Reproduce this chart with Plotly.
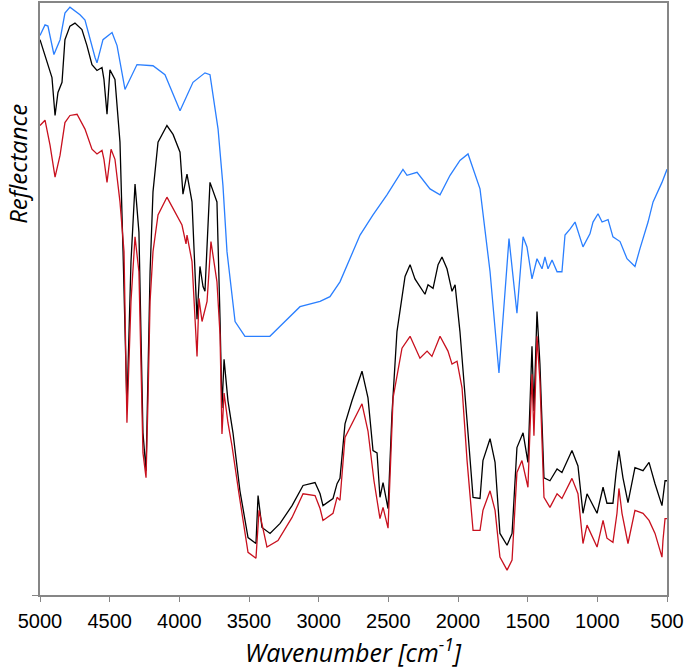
import plotly.graph_objects as go

# Wavenumbers (cm-1) and reflectance (arb. units, 0-100)
blue_wn = [5000, 4964, 4943, 4900, 4856, 4821, 4785, 4713, 4677, 4641, 4605, 4591, 4548, 4483,
           4447, 4390, 4304, 4189, 4103, 3995, 3902, 3816, 3780, 3722, 3687, 3658, 3600, 3529,
           3350, 3277, 3206, 3134, 2990, 2919, 2847, 2754, 2703, 2610, 2510, 2395, 2366, 2294,
           2201, 2129, 2057, 1986, 1928, 1842, 1770, 1706, 1648, 1634, 1577, 1533, 1505, 1469,
           1433, 1397, 1376, 1354, 1325, 1289, 1254, 1232, 1196, 1160, 1103, 1053, 1031, 995,
           966, 923, 888, 837, 787, 730, 694, 636, 600, 536, 500]
blue_r = [94.5, 96.3, 96.1, 91.3, 93.8, 98.3, 99.3, 98.0, 97.1, 93.8, 90.8, 89.9, 93.8, 95.0,
          92.8, 85.4, 89.6, 89.4, 87.9, 81.8, 86.6, 88.2, 87.9, 78.7, 69.2, 58.0, 46.2, 43.7,
          43.7, 45.4, 47.1, 48.7, 49.6, 50.4, 52.9, 58.0, 60.8, 64.2, 67.6, 71.9, 70.9, 71.4,
          68.6, 67.6, 70.9, 73.4, 74.5, 68.6, 54.6, 37.5, 56.3, 60.2, 47.6, 60.5, 58.8, 53.4,
          56.8, 55.1, 57.1, 55.1, 56.6, 54.6, 54.6, 60.8, 61.8, 63.0, 58.8, 61.0, 63.0, 64.4,
          63.0, 63.4, 60.5, 59.7, 56.8, 55.5, 58.5, 63.0, 66.4, 69.7, 71.9]

black_wn = [5000, 4928, 4914, 4892, 4871, 4842, 4821, 4785, 4749, 4699, 4663, 4627, 4591, 4555,
            4541, 4519, 4498, 4462, 4426, 4404, 4376, 4347, 4318, 4290, 4261, 4239, 4225, 4210,
            4189, 4153, 4089, 4045, 3995, 3974, 3945, 3909, 3873, 3852, 3830, 3816, 3780, 3730,
            3708, 3694, 3679, 3651, 3615, 3565, 3507, 3450, 3435, 3407, 3349, 3277, 3191, 3112,
            3026, 2990, 2969, 2897, 2868, 2847, 2811, 2761, 2689, 2646, 2610, 2581, 2560, 2538,
            2502, 2474, 2438, 2380, 2344, 2309, 2273, 2237, 2215, 2179, 2143, 2115, 2079, 2043,
            2021, 1986, 1935, 1892, 1842, 1821, 1770, 1734, 1699, 1648, 1612, 1577, 1533, 1498,
            1469, 1455, 1433, 1412, 1383, 1340, 1289, 1254, 1182, 1139, 1103, 1074, 1002, 959,
            931, 888, 866, 845, 816, 780, 730, 672, 629, 586, 536, 514, 500]
black_r = [93.8, 88.7, 87.4, 81.0, 84.9, 86.6, 93.8, 96.1, 96.6, 95.5, 92.8, 89.6, 88.6, 89.1,
           87.1, 81.2, 88.7, 87.1, 76.5, 58.0, 31.9, 56.3, 69.4, 61.3, 27.4, 21.0, 36.1, 54.6,
           68.1, 76.5, 79.3, 77.8, 74.8, 67.7, 71.1, 66.4, 46.6, 55.5, 52.1, 51.3, 69.7, 66.4,
           46.7, 31.6, 39.8, 32.8, 27.4, 17.6, 9.7, 8.7, 16.8, 11.4, 10.4, 12.1, 15.1, 18.5,
           19.0, 17.1, 15.1, 16.3, 18.8, 19.7, 28.9, 32.8, 37.8, 33.3, 24.4, 24.0, 16.5, 19.0,
           14.6, 30.6, 44.5, 53.8, 55.8, 53.4, 52.1, 50.8, 52.4, 51.8, 55.8, 57.1, 55.1, 51.3,
           52.4, 44.5, 29.4, 16.5, 16.3, 22.7, 26.4, 22.4, 10.4, 8.4, 10.4, 24.9, 27.4, 22.4,
           42.0, 31.1, 47.9, 39.0, 19.8, 19.3, 21.3, 20.7, 24.4, 21.8, 13.8, 17.1, 13.8, 18.2,
           15.5, 15.5, 20.5, 24.4, 19.8, 15.6, 21.5, 21.0, 22.4, 18.8, 15.1, 19.3, 19.3]

red_wn = [5000, 4964, 4928, 4892, 4856, 4821, 4785, 4734, 4677, 4627, 4591, 4555, 4541, 4519,
          4490, 4462, 4426, 4397, 4376, 4347, 4318, 4290, 4261, 4239, 4225, 4210, 4189, 4153,
          4089, 4017, 3981, 3952, 3945, 3909, 3873, 3859, 3837, 3801, 3773, 3730, 3708, 3694,
          3679, 3651, 3622, 3572, 3507, 3450, 3428, 3371, 3292, 3191, 3112, 3026, 2990, 2969,
          2897, 2868, 2847, 2811, 2761, 2689, 2646, 2603, 2560, 2538, 2502, 2466, 2402, 2344,
          2273, 2222, 2187, 2129, 2072, 2043, 2007, 1971, 1935, 1892, 1842, 1821, 1770, 1734,
          1699, 1648, 1612, 1577, 1541, 1498, 1469, 1455, 1433, 1412, 1383, 1340, 1289, 1254,
          1182, 1139, 1103, 1074, 1002, 959, 931, 888, 859, 845, 823, 780, 730, 672, 629, 586,
          536, 529, 514, 500]
red_r = [79.3, 80.2, 76.0, 70.6, 74.3, 79.8, 81.0, 81.2, 78.7, 75.3, 74.5, 75.1, 73.6, 69.7,
         75.3, 73.6, 66.4, 58.0, 29.1, 49.6, 60.5, 54.6, 24.0, 19.8, 32.8, 49.6, 58.0, 64.2,
         67.2, 64.2, 62.5, 59.3, 60.8, 56.3, 40.3, 50.1, 46.2, 49.6, 59.7, 52.9, 44.0, 27.2,
         34.1, 29.1, 25.2, 17.1, 7.2, 6.2, 14.3, 8.1, 9.2, 13.1, 17.1, 16.8, 14.6, 12.6,
         13.8, 16.5, 16.0, 26.6, 28.9, 32.3, 27.7, 19.3, 12.9, 14.8, 11.3, 33.3, 41.7, 43.7,
         40.0, 41.2, 40.3, 43.7, 41.2, 39.0, 39.5, 35.0, 22.7, 10.9, 10.9, 14.3, 17.6, 14.3,
         6.4, 4.2, 5.9, 20.7, 22.7, 18.2, 37.3, 26.9, 43.7, 36.1, 16.5, 14.8, 17.1, 16.3,
         19.7, 17.1, 8.7, 11.8, 8.1, 12.6, 9.6, 8.9, 13.8, 18.0, 13.8, 8.7, 14.3, 13.8, 12.6, 10.4,
         6.4, 9.2, 12.9, 12.9]

x_ticks = [5000, 4500, 4000, 3500, 3000, 2500, 2000, 1500, 1000, 500]

fig = go.Figure()
fig.add_trace(go.Scatter(x=blue_wn, y=blue_r, mode='lines',
                         line=dict(color='#2a7fff', width=1.3)))
fig.add_trace(go.Scatter(x=black_wn, y=black_r, mode='lines',
                         line=dict(color='#000000', width=1.3)))
fig.add_trace(go.Scatter(x=red_wn, y=red_r, mode='lines',
                         line=dict(color='#c8101e', width=1.3)))

fig.update_layout(
    width=685, height=672,
    margin=dict(l=40, r=18, t=1, b=77),
    paper_bgcolor='white', plot_bgcolor='white',
    showlegend=False,
    xaxis=dict(range=[5000, 500], tickvals=x_ticks, ticktext=[str(t) for t in x_ticks],
               showgrid=False, zeroline=False, showline=True, linecolor='#868686', linewidth=1.5,
               mirror=True, ticks='outside', ticklen=5, tickcolor='#868686',
               ticklabelstandoff=2,
               tickfont=dict(family='Liberation Sans, Arial', size=20, color='black')),
    yaxis=dict(range=[0, 100], tickvals=[0], showticklabels=False,
               showgrid=False, zeroline=False, showline=True, linecolor='#868686', linewidth=1.5,
               mirror=True, ticks='outside', ticklen=6, tickcolor='#868686'),
    annotations=[
        dict(text='<i>Wavenumber [cm<sup>-1</sup>]</i>', xref='paper', yref='paper',
             x=0.5, y=-0.093, xanchor='center', yanchor='middle', showarrow=False,
             font=dict(family='Open Sans', size=25, color='black')),
        dict(text='<i>Reflectance</i>', xref='paper', yref='paper',
             x=-0.036, y=0.729, xanchor='center', yanchor='middle', showarrow=False,
             textangle=-90, font=dict(family='Open Sans', size=24, color='black')),
    ],
)

# page body has a default 8px margin; drop it so the figure sits at the window corner
fig.write_html("out.html", config={'displayModeBar': False},
               post_script="document.body.style.margin='0px';")
